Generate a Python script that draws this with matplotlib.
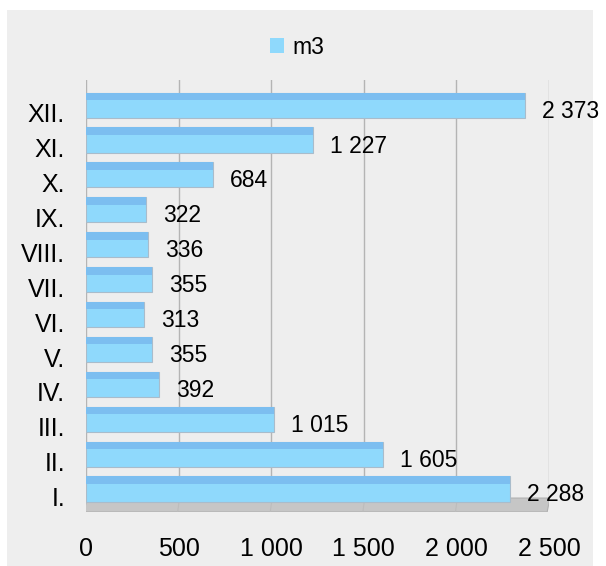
import matplotlib
matplotlib.use("Agg")
import matplotlib.pyplot as plt
from matplotlib.patches import Rectangle, Polygon, Patch
import numpy as np

plt.rcParams['font.family'] = ['Liberation Sans', 'DejaVu Sans']

months = ["I.", "II.", "III.", "IV.", "V.", "VI.", "VII.", "VIII.", "IX.", "X.", "XI.", "XII."]
values = [2288, 1605, 1015, 392, 355, 313, 355, 336, 322, 684, 1227, 2373]
series_name = "m3"
xticks = [0, 500, 1000, 1500, 2000, 2500]

light = "#8fd9fc"
dark = "#7cbef0"
panel = "#eeeeee"

fig = plt.figure(figsize=(6.06, 5.66), dpi=100)
fig.patch.set_facecolor("white")
fig.patches.append(Rectangle((7/606, 0), (593-7)/606, 1 - 10/566,
                             transform=fig.transFigure, facecolor=panel,
                             edgecolor="none", zorder=-10))

ax = fig.add_axes([86/606, 1 - 512/566, 463/606, 432/566])
ax.set_facecolor("none")
for s in ax.spines.values():
    s.set_visible(False)

n = len(values)
y = np.arange(n)
ax.set_xlim(0, 2500)
ax.set_ylim(-0.66, 11.72)

floor_top = -0.26
floor_bot = -0.66
# gridlines on back wall
for xv in xticks:
    ax.plot([xv, xv], [floor_top, 11.72], color="#b4b4b4", lw=1.0, zorder=0.5)
# floor
floor = Polygon([(-10, floor_bot), (2490, floor_bot), (2505, floor_top), (5, floor_top)],
                closed=True, facecolor="#c6c6c6", edgecolor="#b0b0b0", lw=0.8, zorder=1)
ax.add_patch(floor)
for xv in xticks[1:-1]:
    ax.plot([xv + 5, xv - 5], [floor_top, floor_bot], color="#bcbcbc", lw=0.8, zorder=1.1)

bh = 0.72
strip = 0.3 * bh
ax.barh(y, values, height=bh, color=light, edgecolor="#a9bccb", lw=0.8, zorder=2)
ax.barh(y + bh / 2 - strip / 2, values, height=strip, color=dark, edgecolor="none", zorder=2.1)

for yi, v in zip(y, values):
    ax.annotate(f"{v:,}".replace(",", " "), xy=(v, yi), xytext=(17, -6),
                textcoords="offset pixels", ha="left", va="center",
                fontsize=16.5, color="black", zorder=3, annotation_clip=False)

ax.set_yticks(y - 0.22)
ax.set_yticklabels(months, fontsize=18)
ax.set_xticks(xticks)
ax.set_xticklabels([f"{t:,}".replace(",", " ") for t in xticks], fontsize=18)
ax.tick_params(axis="both", length=0)
ax.tick_params(axis="y", pad=15)
ax.tick_params(axis="x", pad=18)

ax.legend(handles=[Patch(facecolor=light, edgecolor="none", label=series_name)],
          loc="center", bbox_to_anchor=(297/606, 1 - 47/566),
          bbox_transform=fig.transFigure, frameon=False, fontsize=16.5,
          handlelength=0.62, handleheight=0.62, handletextpad=0.35)

fig.savefig("out.png", dpi=100, facecolor="white")
